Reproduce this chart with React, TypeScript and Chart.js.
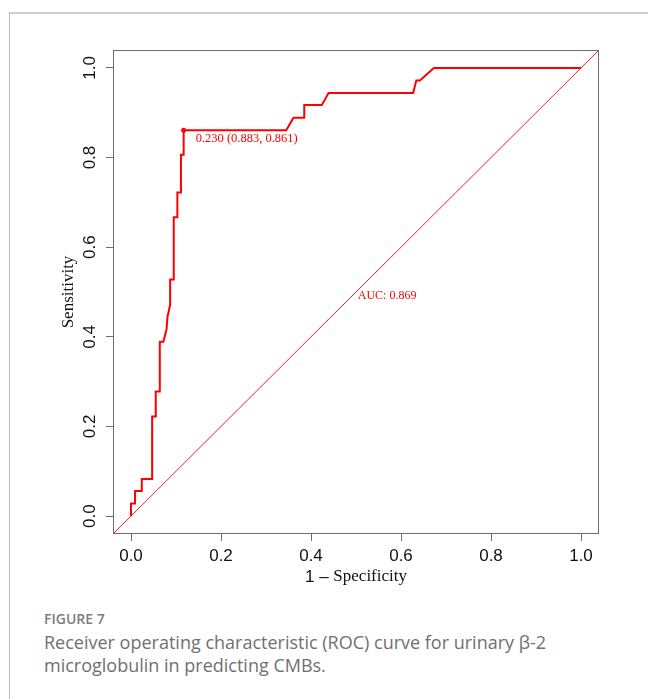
import React, { useEffect, useRef } from "react";
import { Chart, registerables } from "chart.js";

Chart.register(...registerables);

// ROC curve: 1 - specificity (x) and sensitivity (y)
const fpr = [
  0, 0, 0.009, 0.009, 0.024, 0.024, 0.047, 0.047, 0.055, 0.055, 0.064, 0.064,
  0.072, 0.079, 0.081, 0.087, 0.087, 0.095, 0.095, 0.103, 0.103, 0.111, 0.111,
  0.117, 0.117, 0.345, 0.361, 0.385, 0.385, 0.424, 0.439, 0.627, 0.634, 0.642,
  0.673, 1.0,
];
const tpr = [
  0, 0.028, 0.028, 0.056, 0.056, 0.083, 0.083, 0.222, 0.222, 0.278, 0.278, 0.389,
  0.389, 0.417, 0.444, 0.472, 0.528, 0.528, 0.667, 0.667, 0.722, 0.722, 0.806,
  0.806, 0.861, 0.861, 0.889, 0.889, 0.917, 0.917, 0.944, 0.944, 0.972, 0.972,
  1.0, 1.0,
];
const diagonalEnds = [-0.04, 1.04];
const axisMin = -0.04;
const axisMax = 1.04;
const xTicks = [0, 0.2, 0.4, 0.6, 0.8, 1.0];
const xTickLabels = ["0.0", "0.2", "0.4", "0.6", "0.8", "1.0"];
const yTicks = [0, 0.2, 0.4, 0.6, 0.8, 1.0];
const yTickLabels = ["0.0", "0.2", "0.4", "0.6", "0.8", "1.0"];
const thresholdPoint = { x: 0.117, y: 0.861 };
const thresholdLabel = "0.230 (0.883, 0.861)";
const aucLabel = "AUC: 0.869";
const aucPosition = { x: 0.569, y: 0.491 };
const xTitleNum = "1 \u2013 ";
const xTitleWord = "Specificity";
const yTitle = "Sensitivity";
const captionHead = "FIGURE 7";
const captionLines = [
  "Receiver operating characteristic (ROC) curve for urinary \u03b2-2",
  "microglobulin in predicting CMBs.",
];

const RED = "#ff0000";
const AXIS = "#6e6e6e";
const SANS = "'Liberation Sans', Arial, sans-serif";
const SERIF = "'Liberation Serif', 'Times New Roman', serif";

const overlay = {
  id: "overlay",
  afterDraw(chart: any) {
    const { ctx, chartArea: a, scales } = chart;
    const x = scales.x;
    const y = scales.y;
    ctx.save();
    // plot box
    ctx.strokeStyle = AXIS;
    ctx.lineWidth = 1;
    ctx.strokeRect(a.left + 0.5, a.top + 0.5, a.right - a.left - 1, a.bottom - a.top - 1);

    // tick labels
    ctx.fillStyle = "#111";
    ctx.font = `17px ${SANS}`;
    ctx.textAlign = "center";
    ctx.textBaseline = "middle";
    xTicks.forEach((v, i) => {
      ctx.fillText(xTickLabels[i], x.getPixelForValue(v), a.bottom + 22);
    });
    yTicks.forEach((v, i) => {
      ctx.save();
      ctx.translate(a.left - 23, y.getPixelForValue(v));
      ctx.rotate(-Math.PI / 2);
      ctx.fillText(yTickLabels[i], 0, 0);
      ctx.restore();
    });

    // axis titles
    const cx = (a.left + a.right) / 2;
    ctx.font = `17px ${SANS}`;
    const w1 = ctx.measureText(xTitleNum).width;
    ctx.font = `17px ${SERIF}`;
    const w2 = ctx.measureText(xTitleWord).width;
    const start = cx - (w1 + w2) / 2;
    ctx.textAlign = "left";
    ctx.font = `17px ${SANS}`;
    ctx.fillText(xTitleNum, start, a.bottom + 43);
    ctx.font = `17px ${SERIF}`;
    ctx.fillText(xTitleWord, start + w1, a.bottom + 43);

    ctx.save();
    ctx.translate(a.left - 44, (a.top + a.bottom) / 2);
    ctx.rotate(-Math.PI / 2);
    ctx.textAlign = "center";
    ctx.fillText(yTitle, 0, 0);
    ctx.restore();

    // annotations
    ctx.fillStyle = RED;
    ctx.font = `12.5px ${SERIF}`;
    ctx.textAlign = "left";
    ctx.textBaseline = "alphabetic";
    ctx.fillText(
      thresholdLabel,
      x.getPixelForValue(thresholdPoint.x) + 12,
      y.getPixelForValue(thresholdPoint.y) + 12
    );
    ctx.font = `12px ${SERIF}`;
    ctx.textAlign = "center";
    ctx.textBaseline = "middle";
    ctx.fillText(aucLabel, x.getPixelForValue(aucPosition.x), y.getPixelForValue(aucPosition.y));
    ctx.restore();
  },
};

export default function App() {
  const ref = useRef<HTMLCanvasElement | null>(null);

  useEffect(() => {
    if (!ref.current) return;
    const chart = new Chart(ref.current, {
      type: "scatter",
      data: {
        datasets: [
          {
            data: fpr.map((v, i) => ({ x: v, y: tpr[i] })),
            showLine: true,
            borderColor: RED,
            borderWidth: 2,
            pointRadius: 0,
            fill: false,
            order: 1,
          },
          {
            data: diagonalEnds.map((v) => ({ x: v, y: v })),
            showLine: true,
            borderColor: "#ff1a1a",
            borderWidth: 1,
            pointRadius: 0,
            fill: false,
            order: 2,
          },
          {
            data: [thresholdPoint],
            showLine: false,
            pointRadius: 2.5,
            pointBackgroundColor: RED,
            pointBorderWidth: 0,
            order: 0,
          },
        ],
      } as any,
      options: {
        animation: false,
        responsive: false,
        devicePixelRatio: 1,
        layout: { padding: { top: 50, right: 49, left: 0, bottom: 0 } },
        plugins: { legend: { display: false }, tooltip: { enabled: false } },
        scales: {
          x: {
            type: "linear",
            min: axisMin,
            max: axisMax,
            afterBuildTicks: (s: any) => {
              s.ticks = xTicks.map((v) => ({ value: v }));
            },
            afterFit: (s: any) => {
              s.height = 66;
            },
            ticks: { display: false },
            grid: { drawOnChartArea: false, drawTicks: true, tickLength: 7, color: AXIS },
            border: { display: false },
          },
          y: {
            type: "linear",
            min: axisMin,
            max: axisMax,
            afterBuildTicks: (s: any) => {
              s.ticks = yTicks.map((v) => ({ value: v }));
            },
            afterFit: (s: any) => {
              s.width = 113;
            },
            ticks: { display: false },
            grid: { drawOnChartArea: false, drawTicks: true, tickLength: 7, color: AXIS },
            border: { display: false },
          },
        },
      } as any,
      plugins: [overlay],
    });
    return () => chart.destroy();
  }, []);

  return (
    <div style={{ position: "absolute", left: 0, top: 0, width: 648, height: 699, overflow: "hidden", background: "#fff" }}>
      <div
        style={{
          position: "absolute",
          left: 9,
          top: 12,
          width: 700,
          height: 800,
          borderLeft: "1px solid #b8b8b8",
          borderTop: "2px solid #cfcfcf",
        }}
      />
      <canvas ref={ref} width={648} height={600} style={{ position: "absolute", left: 0, top: 0, width: 648, height: 600 }} />
      <div
        style={{
          position: "absolute",
          left: 44,
          top: 610,
          fontFamily: "'Open Sans', sans-serif",
          fontWeight: 600,
          fontSize: 14,
          lineHeight: "18px",
          color: "#7d7d7d",
        }}
      >
        {captionHead}
      </div>
      <div
        style={{
          position: "absolute",
          left: 44,
          top: 631,
          fontFamily: "'Open Sans', sans-serif",
          fontSize: 18,
          fontWeight: 400,
          lineHeight: "23px",
          color: "#707070",
          whiteSpace: "nowrap",
        }}
      >
        {captionLines.map((l, i) => (
          <div key={i}>{l}</div>
        ))}
      </div>
    </div>
  );
}
